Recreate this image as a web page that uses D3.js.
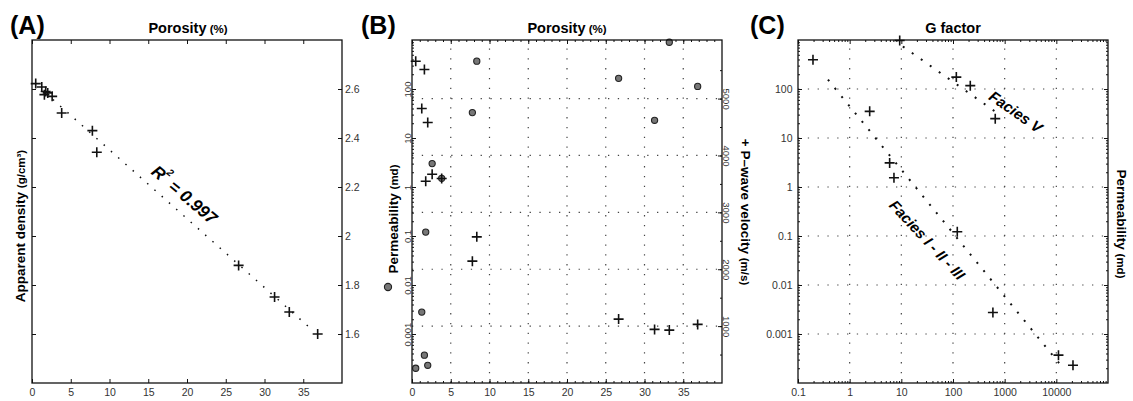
<!DOCTYPE html>
<html>
<head>
<meta charset="utf-8">
<script src="https://cdn.jsdelivr.net/npm/d3@7"></script>
<style>
  body { margin: 0; background: #fff; }
  svg { font-family: "Liberation Sans", Arial, Helvetica, sans-serif; }
  .tick text { fill: #333; }
  .tick line { stroke: #111; }
</style>
</head>
<body>
<svg id="chart" width="1133" height="401"></svg>
<script>
'use strict';

// samples shared by panels A and B
const porosity = [0.48, 1.26, 1.6, 1.77, 2.03, 2.6, 3.83, 7.79, 8.36, 26.66, 31.3, 33.2, 36.86];
const density = [2.622, 2.608, 2.577, 2.59, 2.584, 2.57, 2.502, 2.43, 2.342, 1.88, 1.751, 1.69, 1.60];
const permeability = [0.0002, 0.0028, 0.00037, 0.12, 0.00023, 3.0, 1.5, 33, 370, 165, 23, 900, 113];
const velocity = [5657, 4826, 5511, 3548, 4580, 3671, 3596, 2142, 2569, 1123, 942, 930, 1030];
const densityFit = [[2.7, 2.557], [36, 1.621]];

// panel C
const gFactor = [0.195, 9.3, 116, 216, 657, 2.44, 5.94, 7.2, 121, 592, 11000, 21000];
const permC = [395, 980, 175, 117, 24.8, 35, 3.1, 1.54, 0.122, 0.00274, 0.00037, 0.00023];
const faciesVFit = [[10.7, 738], [796, 30]];
const facies123Fit = [[0.38, 155], [12450, 0.000224]];

// ticks
const porosityTicks = [0, 5, 10, 15, 20, 25, 30, 35];
const densityTicks = [1.6, 1.8, 2, 2.2, 2.4, 2.6];
const permTicks = [0.001, 0.01, 0.1, 1, 10, 100];
const permTickLabels = ["0.001", "0.01", "0.1", "1", "10", "100"];
const velocityTicks = [1000, 2000, 3000, 4000, 5000];
const gTicks = [0.1, 1, 10, 100, 1000, 10000];
const gTickLabels = ["0.1", "1", "10", "100", "1000", "10000"];

const _top = 40, _bottom = 383;
const svg = d3.select("#chart");

const xA = d3.scaleLinear().domain([0, 40]).range([32, 342]);
const yA = d3.scaleLinear().domain([1.4, 2.8]).range([_bottom, _top]);
const xB = d3.scaleLinear().domain([0, 40]).range([412, 722]);
const yPerm = d3.scaleLog().domain([1e-4, 1e3]).range([_bottom, _top]);
const yVel = d3.scaleLinear().domain([0, 6030]).range([_bottom, _top]);
const xC = d3.scaleLog().domain([0.1, 1e5]).range([798, 1108]);
const yC = d3.scaleLog().domain([1e-4, 1e3]).range([_bottom, _top]);

function logMinor(lo, hi) {
    var out = [];
    for (var e = lo; e < hi; e++) {
        for (var k = 2; k <= 9; k++) out.push(k * Math.pow(10, e));
    }
    return out;
}

// axis with inward ticks, domain line removed (frame drawn separately)
function axis(orient, scale, shift, values, size, fmt, pad, fontSize) {
    var a = orient(scale).tickValues(values).tickSize(-size).tickPadding(pad || 3)
        .tickFormat(fmt ? fmt : function () { return ""; });
    var g = svg.append("g").attr("transform", shift).call(a)
        .attr("font-family", null).attr("font-size", fontSize || 10.5);
    g.select(".domain").remove();
    return g;
}

function frame(x, y) {
    svg.append("rect")
        .attr("x", x.range()[0]).attr("y", _top)
        .attr("width", x.range()[1] - x.range()[0]).attr("height", _bottom - _top)
        .attr("fill", "none").attr("stroke", "#111").attr("stroke-width", 1.3);
}

function grid(x, y, xv, yv) {
    var g = svg.append("g").attr("stroke", "#444").attr("stroke-width", 1.2)
        .attr("stroke-dasharray", "1.3,8.5");
    g.selectAll(".gx").data(xv).join("line")
        .attr("x1", d => x(d)).attr("x2", d => x(d)).attr("y1", _bottom).attr("y2", _top);
    g.selectAll(".gy").data(yv).join("line")
        .attr("y1", d => y(d)).attr("y2", d => y(d)).attr("x1", x.range()[0]).attr("x2", x.range()[1]);
}

function fitLine(pts, x, y, w, dash) {
    svg.append("path")
        .attr("d", d3.line().x(d => x(d[0])).y(d => y(d[1]))(pts))
        .attr("fill", "none").attr("stroke", "#111")
        .attr("stroke-width", w).attr("stroke-dasharray", dash);
}

function crosses(xs, ys, x, y) {
    svg.append("g").selectAll("path").data(xs).join("path")
        .attr("transform", (d, i) => "translate(" + x(d) + "," + y(ys[i]) + ")")
        .attr("d", "M-5,0H5M0,-5V5")
        .attr("stroke", "#111").attr("stroke-width", 1.6).attr("fill", "none");
}

function circles(xs, ys, x, y) {
    svg.append("g").selectAll("circle").data(xs).join("circle")
        .attr("cx", d => x(d)).attr("cy", (d, i) => y(ys[i])).attr("r", 3.1)
        .attr("fill", "#777").attr("stroke", "#222").attr("stroke-width", 1.1);
}

function title(cx, main, unit) {
    var t = svg.append("text").attr("x", cx).attr("y", 33).attr("text-anchor", "middle")
        .attr("font-weight", "bold").attr("font-size", 14.5).text(main);
    if (unit) t.append("tspan").attr("font-size", 11.5).text(" " + unit);
}

function panelLetter(x, s) {
    svg.append("text").attr("x", x).attr("y", 34).attr("font-weight", "bold")
        .attr("font-size", 25).text(s);
}

function rotLabel(x, y, angle, parts) {
    var t = svg.append("text").attr("transform", "translate(" + x + "," + y + ") rotate(" + angle + ")")
        .attr("text-anchor", "middle").attr("font-weight", "bold");
    parts.forEach(function (p) {
        t.append("tspan").attr("font-size", p[1]).text(p[0]);
    });
    return t;
}

function slanted(x, y, angle, size, parts) {
    var t = svg.append("text").attr("transform", "translate(" + x + "," + y + ") rotate(" + angle + ")")
        .attr("text-anchor", "middle").attr("dominant-baseline", "central")
        .attr("font-weight", "bold").attr("font-style", "italic").attr("font-size", size);
    parts.forEach(function (p) {
        t.append("tspan").attr("font-size", p[1]).attr("dy", p[2]).text(p[0]);
    });
}

// ---------- (A)
axis(d3.axisBottom, xA, "translate(0," + _bottom + ")", porosityTicks, 4, d => String(d), 6);
axis(d3.axisTop, xA, "translate(0," + _top + ")", porosityTicks, 4);
axis(d3.axisLeft, yA, "translate(32,0)", densityTicks, 4);
axis(d3.axisRight, yA, "translate(342,0)", densityTicks, 4, d => String(d), 3);
fitLine(densityFit, xA, yA, 1.5, "1.5,8.2");
crosses(porosity, density, xA, yA);
frame(xA, yA);
slanted(xA(19.7), yA(2.17), 40, 17, [["R", 17, 0], ["2", 10, "-0.8em"], [" = 0.997", 17, "0.5em"]]);
title(188, "Porosity", "(%)");
panelLetter(10, "(A)");
rotLabel(25, 226, -90, [["Apparent density ", 13.5], ["(g/cm\u00b3)", 11.5]]);

// ---------- (B)
grid(xB, yVel, porosityTicks.slice(1), velocityTicks);
axis(d3.axisBottom, xB, "translate(0," + _bottom + ")", porosityTicks, 4, d => String(d), 6);
axis(d3.axisBottom, xB, "translate(0," + _bottom + ")", d3.range(1, 40), 2);
axis(d3.axisTop, xB, "translate(0," + _top + ")", porosityTicks, 4);
axis(d3.axisTop, xB, "translate(0," + _top + ")", d3.range(1, 40), 2);
axis(d3.axisLeft, yPerm, "translate(412,0)", logMinor(-4, 3), 2);
var bl = axis(d3.axisLeft, yPerm, "translate(412,0)", permTicks, 4, (d, i) => permTickLabels[i], 3, 9.5);
bl.selectAll("text").attr("transform", "rotate(-90)").attr("x", 0).attr("y", -1)
    .attr("dy", 0).attr("text-anchor", "middle");
axis(d3.axisRight, yVel, "translate(722,0)", d3.range(500, 6000, 500), 2);
var br = axis(d3.axisRight, yVel, "translate(722,0)", velocityTicks, 4, d => String(d), 3, 9.5);
br.selectAll("text").attr("transform", "rotate(90)").attr("x", 0).attr("y", -1)
    .attr("dy", 0).attr("text-anchor", "middle");
circles(porosity, permeability, xB, yPerm);
crosses(porosity, velocity, xB, yVel);
frame(xB, yPerm);
title(567, "Porosity", "(%)");
panelLetter(361, "(B)");
rotLabel(398, 219, -90, [["Permeability ", 13.5], ["(md)", 11.5]]);
svg.append("circle").attr("cx", 388).attr("cy", 287).attr("r", 3.6)
    .attr("fill", "#777").attr("stroke", "#222").attr("stroke-width", 1.1);
rotLabel(741, 212, 90, [["+ P\u2013wave velocity ", 13.5], ["(m/s)", 11.5]]);

// ---------- (C)
grid(xC, yC, gTicks.slice(1), permTicks);
axis(d3.axisBottom, xC, "translate(0," + _bottom + ")", gTicks, 4, (d, i) => gTickLabels[i], 6);
axis(d3.axisBottom, xC, "translate(0," + _bottom + ")", logMinor(-1, 5), 2);
axis(d3.axisTop, xC, "translate(0," + _top + ")", gTicks, 4);
axis(d3.axisTop, xC, "translate(0," + _top + ")", logMinor(-1, 5), 2);
axis(d3.axisLeft, yC, "translate(798,0)", permTicks, 4, (d, i) => permTickLabels[i], 5.5);
axis(d3.axisLeft, yC, "translate(798,0)", logMinor(-4, 3), 2);
axis(d3.axisRight, yC, "translate(1108,0)", permTicks, 4);
axis(d3.axisRight, yC, "translate(1108,0)", logMinor(-4, 3), 2);
fitLine(faciesVFit, xC, yC, 2, "2,9");
fitLine(facies123Fit, xC, yC, 2, "2,8.7");
crosses(gFactor, permC, xC, yC);
frame(xC, yC);
slanted(xC(1675), yC(35), 35, 15, [["Facies V", 15, 0]]);
slanted(xC(32.3), yC(0.0853), 47, 15, [["Facies I - II - III", 15, 0]]);
title(953, "G factor");
panelLetter(750, "(C)");
rotLabel(1117, 224, 90, [["Permeability ", 13.5], ["(md)", 11.5]]);
</script>
</body>
</html>
